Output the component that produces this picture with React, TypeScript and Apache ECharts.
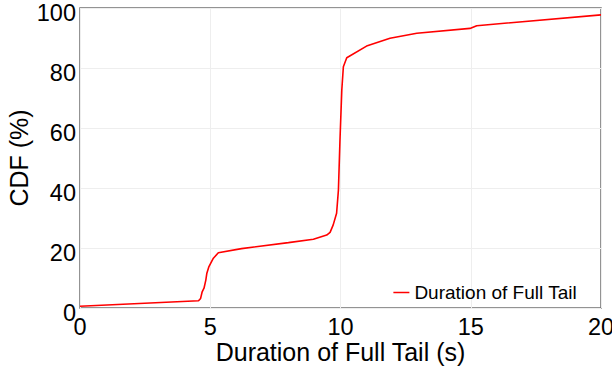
import React, { useEffect, useRef } from "react";
import * as echarts from "echarts";

const seriesName = "Duration of Full Tail";
const xValues = [0, 4.55, 4.63, 4.69, 4.76, 4.83, 4.87, 4.95, 5.12, 5.31, 6.2, 8.0, 8.96, 9.47, 9.6, 9.72, 9.85, 9.92, 9.98, 10.05, 10.11, 10.24, 11.0, 11.9, 12.93, 14.97, 15.23, 20];
const cdfValues = [0.6, 2.4, 3.2, 5.4, 6.6, 9.3, 11.6, 13.8, 16.6, 18.4, 19.8, 21.8, 22.9, 24.3, 25.2, 27.7, 31.6, 39.3, 56, 72.7, 80.4, 83.4, 87.3, 89.9, 91.6, 93.2, 94.1, 97.7];
const xTicks = { min: 0, max: 20, interval: 5 };
const yTicks = { min: 0, max: 100, interval: 20 };

const FONT = "'Liberation Sans', Arial, sans-serif";

export default function App() {
  const ref = useRef<HTMLDivElement>(null);
  useEffect(() => {
    if (!ref.current) return;
    const chart = echarts.init(ref.current, null, { renderer: "svg" });
    chart.setOption({
      animation: false,
      textStyle: { fontFamily: FONT },
      grid: {
        left: 80,
        right: 11,
        top: 8,
        bottom: 62,
        outerBoundsMode: "none",
        containLabel: false,
        show: true,
        borderColor: "#707070",
        borderWidth: 1.5,
        backgroundColor: "#fff",
      },
      legend: {
        data: [{ name: seriesName, icon: "rect" }],
        right: 30,
        top: 278,
        itemWidth: 16,
        itemHeight: 1.5,
        itemGap: 4,
        textStyle: { fontSize: 19, color: "#000", fontFamily: FONT },
      },
      xAxis: {
        type: "value",
        min: xTicks.min,
        max: xTicks.max,
        interval: xTicks.interval,
        name: "Duration of Full Tail (s)",
        nameLocation: "middle",
        nameGap: 31,
        nameMoveOverlap: false,
        nameTextStyle: { fontSize: 25, color: "#000", fontFamily: FONT },
        axisLine: { show: false },
        axisTick: { show: false },
        axisLabel: { fontSize: 23.5, color: "#000", margin: 7, fontFamily: FONT },
        splitLine: { show: true, lineStyle: { color: "#eee", width: 1 } },
      },
      yAxis: {
        type: "value",
        min: yTicks.min,
        max: yTicks.max,
        interval: yTicks.interval,
        name: "CDF (%)",
        nameLocation: "middle",
        nameGap: 49,
        nameMoveOverlap: false,
        nameTextStyle: { fontSize: 25, color: "#000", fontFamily: FONT },
        axisLine: { show: false },
        axisTick: { show: false },
        axisLabel: {
          fontSize: 23.5,
          color: "#000",
          margin: 4,
          verticalAlign: "top",
          lineHeight: 9,
          fontFamily: FONT,
        },
        splitLine: { show: true, lineStyle: { color: "#eee", width: 1 } },
      },
      series: [
        {
          name: seriesName,
          type: "line",
          data: xValues.map((x, i) => [x, cdfValues[i]]),
          symbol: "none",
          lineStyle: { color: "#ff0000", width: 1.6 },
          itemStyle: { color: "#ff0000" },
        },
      ],
    });
    return () => chart.dispose();
  }, []);
  return <div ref={ref} style={{ width: 612, height: 370, position: "absolute", left: 0, top: 0 }} />;
}
